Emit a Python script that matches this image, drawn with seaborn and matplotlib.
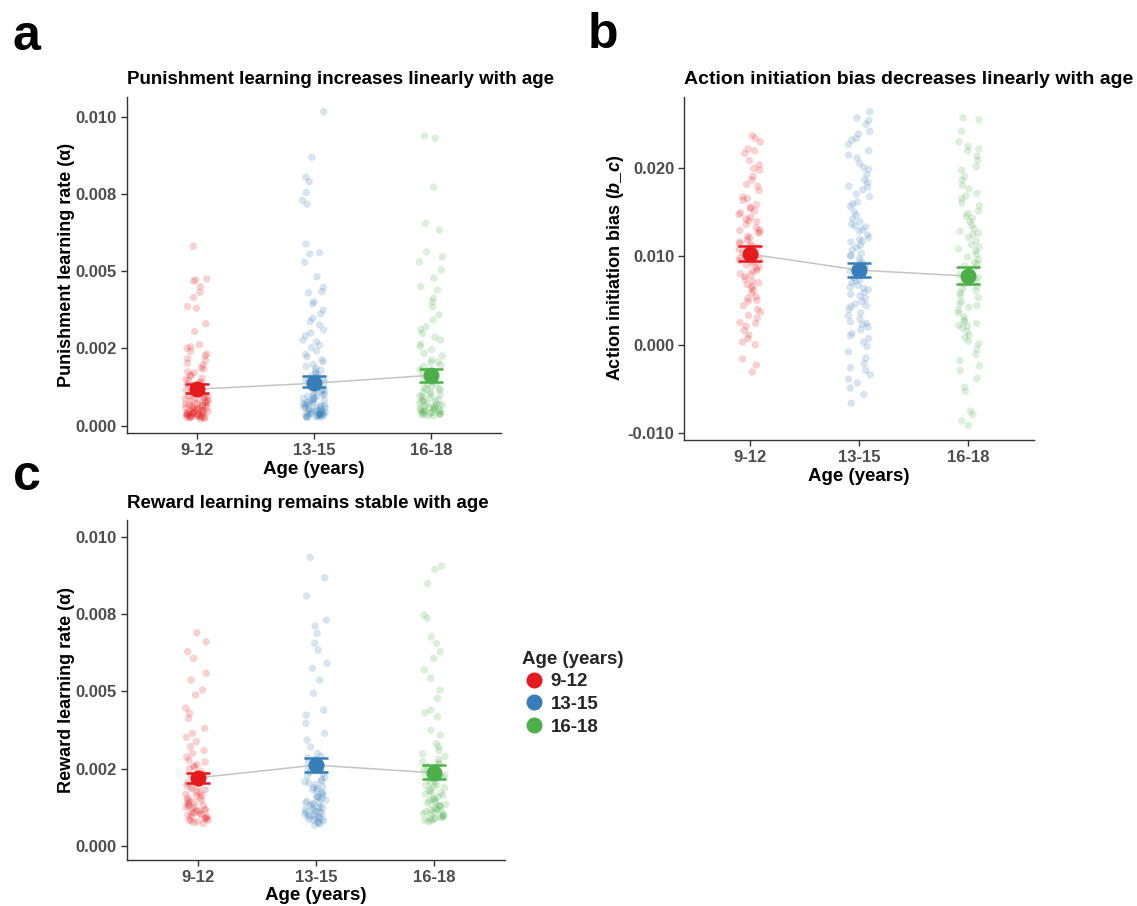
import numpy as np
import pandas as pd
import matplotlib
matplotlib.use("Agg")
import matplotlib.pyplot as plt
import seaborn as sns
from matplotlib import font_manager
from matplotlib.lines import Line2D

# ---------------- data ----------------
ages = ["9-12", "13-15", "16-18"]
colors = ["#E41A1C", "#377EB8", "#4DAF4A"]

pun_9_12 = [0.0058, 0.00475, 0.00472, 0.00468, 0.00450, 0.00432, 0.00415, 0.00385, 0.00380, 0.00330,
            0.00305, 0.00262, 0.00255, 0.00251, 0.00240, 0.00232, 0.00226, 0.00217, 0.00211, 0.00202,
            0.00196, 0.00187, 0.00183, 0.00174, 0.00171, 0.00164, 0.00161, 0.00154, 0.00150, 0.00147,
            0.00141, 0.00139, 0.00133, 0.00131, 0.00125, 0.00123, 0.00117, 0.00116, 0.00111, 0.00108,
            0.00106, 0.00101, 0.00099, 0.00095, 0.00094, 0.00090, 0.00087, 0.00086, 0.00082, 0.00080,
            0.00079, 0.00075, 0.00074, 0.00071, 0.00068, 0.00067, 0.00065, 0.00062, 0.00061, 0.00059,
            0.00058, 0.00056, 0.00054, 0.00053, 0.00051, 0.00049, 0.00048, 0.00047, 0.00045, 0.00044,
            0.00042, 0.00041, 0.00040, 0.00039, 0.00038, 0.00037, 0.00036, 0.00035, 0.00034, 0.00033,
            0.00032, 0.00031, 0.00030, 0.00029, 0.00028, 0.00027, 0.00026, 0.00025, 0.00024, 0.00022,
            0.00092, 0.00077, 0.00063, 0.00057, 0.00046, 0.00043, 0.00035, 0.00031, 0.00027, 0.00070]
pun_13_15 = [0.01016, 0.00869, 0.00804, 0.00790, 0.00755, 0.00730, 0.00717, 0.00588, 0.00560, 0.00556,
             0.00529, 0.00482, 0.00448, 0.00434, 0.00430, 0.00401, 0.00394, 0.00374, 0.00362, 0.00348,
             0.00337, 0.00326, 0.00310, 0.00300, 0.00291, 0.00277, 0.00271, 0.00261, 0.00252, 0.00241,
             0.00231, 0.00223, 0.00213, 0.00206, 0.00198, 0.00191, 0.00186, 0.00179, 0.00176, 0.00169,
             0.00166, 0.00159, 0.00156, 0.00150, 0.00147, 0.00141, 0.00139, 0.00133, 0.00131, 0.00125,
             0.00123, 0.00117, 0.00115, 0.00109, 0.00107, 0.00101, 0.00100, 0.00095, 0.00094, 0.00089,
             0.00088, 0.00083, 0.00082, 0.00077, 0.00076, 0.00072, 0.00071, 0.00068, 0.00066, 0.00064,
             0.00062, 0.00060, 0.00058, 0.00057, 0.00054, 0.00053, 0.00050, 0.00049, 0.00047, 0.00046,
             0.00044, 0.00043, 0.00041, 0.00040, 0.00039, 0.00038, 0.00037, 0.00036, 0.00035, 0.00034,
             0.00033, 0.00032, 0.00031, 0.00030, 0.00029, 0.00028, 0.00027, 0.00026,
             0.00113, 0.00097, 0.00086, 0.00074, 0.00065, 0.00056, 0.00048, 0.00042, 0.00036, 0.00031]
pun_16_18 = [0.00938, 0.00930, 0.00772, 0.00655, 0.00633, 0.00563, 0.00547, 0.00530, 0.00504, 0.00477,
             0.00450, 0.00439, 0.00412, 0.00401, 0.00385, 0.00358, 0.00342, 0.00320, 0.00311, 0.00299,
             0.00286, 0.00277, 0.00264, 0.00256, 0.00246, 0.00234, 0.00226, 0.00213, 0.00206, 0.00197,
             0.00191, 0.00182, 0.00177, 0.00169, 0.00165, 0.00157, 0.00153, 0.00146, 0.00143, 0.00136,
             0.00133, 0.00126, 0.00123, 0.00117, 0.00115, 0.00109, 0.00107, 0.00101, 0.00099, 0.00093,
             0.00091, 0.00085, 0.00084, 0.00079, 0.00078, 0.00073, 0.00072, 0.00067, 0.00066, 0.00062,
             0.00061, 0.00058, 0.00057, 0.00054, 0.00053, 0.00050, 0.00049, 0.00046, 0.00045, 0.00043,
             0.00042, 0.00040, 0.00039, 0.00038, 0.00036, 0.00035, 0.00033, 0.00032,
             0.00203, 0.00161, 0.00120, 0.00096, 0.00081, 0.00069, 0.00059, 0.00051, 0.00044, 0.00037]
pun_mean = [0.00118, 0.00137, 0.00163]
pun_lo = [0.00105, 0.00126, 0.00141]
pun_hi = [0.00135, 0.00159, 0.00184]

bias_9_12 = [0.0236, 0.0233, 0.0229, 0.0221, 0.0219, 0.0216, 0.0208, 0.0203, 0.0199, 0.0197,
             0.0190, 0.0186, 0.0181, 0.0179, 0.0174, 0.0167, 0.0165, 0.0163, 0.0158, 0.0154,
             0.0151, 0.0149, 0.0147, 0.0144, 0.0140, 0.0139, 0.0136, 0.0132, 0.0130, 0.0129,
             0.0126, 0.0122, 0.0121, 0.0118, 0.0116, 0.0114, 0.0111, 0.0110, 0.0108, 0.0104,
             0.0102, 0.0101, 0.0098, 0.0096, 0.0093, 0.0092, 0.0090, 0.0086, 0.0084, 0.0083,
             0.0080, 0.0077, 0.0074, 0.0072, 0.0070, 0.0066, 0.0064, 0.0061, 0.0058, 0.0054,
             0.0050, 0.0049, 0.0044, 0.0040, 0.0037, 0.0033, 0.0030, 0.0025, 0.0024, 0.0021,
             0.0016, 0.0011, 0.0007, 0.0003, 0.0000, -0.0016, -0.0023, -0.0031,
             0.0142, 0.0127, 0.0113, 0.0106, 0.0095, 0.0088, 0.0079, 0.0068, 0.0052, 0.0155]
bias_13_15 = [0.0263, 0.0256, 0.0253, 0.0249, 0.0241, 0.0238, 0.0233, 0.0231, 0.0226, 0.0219,
              0.0214, 0.0211, 0.0205, 0.0200, 0.0198, 0.0192, 0.0186, 0.0183, 0.0179, 0.0175,
              0.0170, 0.0167, 0.0161, 0.0159, 0.0156, 0.0150, 0.0146, 0.0142, 0.0139, 0.0136,
              0.0133, 0.0130, 0.0128, 0.0124, 0.0121, 0.0119, 0.0116, 0.0112, 0.0110, 0.0107,
              0.0103, 0.0100, 0.0097, 0.0094, 0.0091, 0.0088, 0.0085, 0.0083, 0.0079, 0.0076,
              0.0073, 0.0070, 0.0067, 0.0065, 0.0062, 0.0059, 0.0055, 0.0052, 0.0049, 0.0046,
              0.0043, 0.0040, 0.0036, 0.0033, 0.0029, 0.0026, 0.0023, 0.0020, 0.0017, 0.0013,
              0.0010, 0.0007, 0.0003, -0.0002, -0.0008, -0.0015, -0.0021, -0.0026, -0.0029, -0.0034,
              -0.0039, -0.0043, -0.0049, -0.0056, -0.0066,
              0.0134, 0.0117, 0.0101, 0.0087, 0.0072, 0.0064, 0.0057, 0.0044, 0.0024, 0.0178]
bias_16_18 = [0.0256, 0.0254, 0.0241, 0.0229, 0.0224, 0.0221, 0.0219, 0.0213, 0.0208, 0.0201,
              0.0197, 0.0190, 0.0186, 0.0180, 0.0176, 0.0171, 0.0165, 0.0160, 0.0157, 0.0151,
              0.0148, 0.0143, 0.0139, 0.0135, 0.0131, 0.0128, 0.0124, 0.0121, 0.0117, 0.0113,
              0.0110, 0.0106, 0.0102, 0.0099, 0.0096, 0.0093, 0.0089, 0.0086, 0.0083, 0.0079,
              0.0076, 0.0073, 0.0069, 0.0066, 0.0063, 0.0059, 0.0056, 0.0053, 0.0049, 0.0046,
              0.0042, 0.0039, 0.0036, 0.0032, 0.0028, 0.0024, 0.0021, 0.0019, 0.0015, 0.0011,
              0.0008, 0.0004, 0.0001, -0.0005, -0.0011, -0.0018, -0.0024, -0.0029, -0.0038, -0.0048,
              -0.0053, -0.0075, -0.0079, -0.0086, -0.0091,
              0.0145, 0.0126, 0.0108, 0.0091, 0.0077, 0.0061, 0.0044, 0.0026, 0.0022, 0.0168]
bias_mean = [0.01023, 0.00842, 0.00774]
bias_lo = [0.00947, 0.00759, 0.00687]
bias_hi = [0.01113, 0.00917, 0.00872]

rew_9_12 = [0.00689, 0.00660, 0.00628, 0.00606, 0.00558, 0.00536, 0.00504, 0.00488, 0.00445, 0.00429,
            0.00412, 0.00380, 0.00364, 0.00351, 0.00337, 0.00321, 0.00308, 0.00299, 0.00287, 0.00277,
            0.00271, 0.00263, 0.00254, 0.00249, 0.00241, 0.00232, 0.00227, 0.00219, 0.00215, 0.00207,
            0.00203, 0.00195, 0.00191, 0.00184, 0.00181, 0.00174, 0.00171, 0.00164, 0.00162, 0.00156,
            0.00154, 0.00148, 0.00146, 0.00140, 0.00138, 0.00133, 0.00131, 0.00126, 0.00124, 0.00119,
            0.00118, 0.00113, 0.00112, 0.00107, 0.00106, 0.00101, 0.00099, 0.00095, 0.00093, 0.00089,
            0.00087, 0.00084, 0.00081, 0.00078, 0.00075, 0.00072,
            0.00258, 0.00223, 0.00188, 0.00167, 0.00143, 0.00128, 0.00115, 0.00104, 0.00091, 0.00083]
rew_13_15 = [0.00933, 0.00867, 0.00808, 0.00730, 0.00711, 0.00687, 0.00655, 0.00633, 0.00590, 0.00574,
             0.00536, 0.00493, 0.00439, 0.00423, 0.00396, 0.00364, 0.00342, 0.00320, 0.00299, 0.00290,
             0.00281, 0.00274, 0.00266, 0.00260, 0.00251, 0.00246, 0.00238, 0.00233, 0.00226, 0.00221,
             0.00214, 0.00209, 0.00203, 0.00198, 0.00192, 0.00188, 0.00182, 0.00178, 0.00173, 0.00169,
             0.00164, 0.00160, 0.00156, 0.00152, 0.00148, 0.00144, 0.00141, 0.00137, 0.00134, 0.00130,
             0.00127, 0.00123, 0.00120, 0.00117, 0.00114, 0.00111, 0.00108, 0.00105, 0.00102, 0.00099,
             0.00097, 0.00094, 0.00091, 0.00089, 0.00086, 0.00083, 0.00080, 0.00077, 0.00074, 0.00071,
             0.00067,
             0.00285, 0.00243, 0.00207, 0.00185, 0.00158, 0.00139, 0.00121, 0.00109, 0.00096, 0.00085]
rew_16_18 = [0.00905, 0.00894, 0.00849, 0.00747, 0.00736, 0.00676, 0.00655, 0.00628, 0.00606, 0.00569,
             0.00542, 0.00504, 0.00477, 0.00439, 0.00430, 0.00417, 0.00374, 0.00358, 0.00331, 0.00320,
             0.00309, 0.00298, 0.00289, 0.00279, 0.00272, 0.00263, 0.00256, 0.00248, 0.00241, 0.00234,
             0.00227, 0.00221, 0.00214, 0.00209, 0.00203, 0.00197, 0.00192, 0.00187, 0.00181, 0.00177,
             0.00172, 0.00167, 0.00163, 0.00158, 0.00154, 0.00150, 0.00146, 0.00142, 0.00138, 0.00134,
             0.00131, 0.00127, 0.00124, 0.00120, 0.00117, 0.00113, 0.00110, 0.00107, 0.00104, 0.00101,
             0.00098, 0.00095, 0.00092, 0.00089, 0.00086, 0.00083, 0.00080, 0.00078,
             0.00268, 0.00231, 0.00195, 0.00171, 0.00148, 0.00129, 0.00116, 0.00103, 0.00093, 0.00087]
rew_mean = [0.00220, 0.00261, 0.00236]
rew_lo = [0.00202, 0.00240, 0.00216]
rew_hi = [0.00237, 0.00283, 0.00261]

rate_ticks = [0.0, 0.0025, 0.005, 0.0075, 0.01]
rate_ticklabels = ["0.000", "0.002", "0.005", "0.008", "0.010"]
bias_ticks = [-0.01, 0.0, 0.01, 0.02]
bias_ticklabels = ["-0.010", "0.000", "0.010", "0.020"]

# ---------------- style ----------------
sns.set_theme(style="white")
names = {f.name for f in font_manager.fontManager.ttflist}
NARROW = "Liberation Sans Narrow" if "Liberation Sans Narrow" in names else "Liberation Sans"
TICK_SIZE = 13.5 if NARROW == "Liberation Sans Narrow" else 12
plt.rcParams["font.family"] = ["Liberation Sans", "DejaVu Sans"]
plt.rcParams["mathtext.fontset"] = "custom"
plt.rcParams["mathtext.it"] = "Liberation Sans:italic:bold"
plt.rcParams["mathtext.rm"] = "Liberation Sans:bold"
plt.rcParams["mathtext.bf"] = "Liberation Sans:bold"

W, H = 1137, 906
fig = plt.figure(figsize=(W / 100, H / 100), dpi=100)


def box(l, t, r, b):
    return [l / W, 1 - b / H, (r - l) / W, (b - t) / H]


def panel(ax, groups, means, lo, hi, title, ylabel, yticks, yticklabels, ylim,
          ylabelpad, title_size=13.5):
    df = pd.DataFrame({
        "age": np.repeat(ages, [len(g) for g in groups]),
        "value": np.concatenate(groups),
    })
    sns.stripplot(data=df, x="age", y="value", hue="age", order=ages, hue_order=ages,
                  palette=colors, jitter=0.1, size=5.4, alpha=0.2, linewidth=0,
                  legend=False, ax=ax, zorder=1)
    pos = np.arange(len(ages))
    ax.plot(pos, means, color="#C4C4C4", lw=1.1, zorder=2)
    for i in range(len(ages)):
        ax.errorbar(pos[i], means[i], yerr=[[means[i] - lo[i]], [hi[i] - means[i]]],
                    fmt="o", color=colors[i], ms=10.5, capsize=8.3, elinewidth=1.8,
                    capthick=1.8, zorder=3)
    ax.set_xlim(-0.6, 2.6)
    ax.set_ylim(*ylim)
    ax.set_yticks(yticks)
    ax.set_yticklabels(yticklabels)
    ax.set_xticks(pos)
    ax.set_xticklabels(ages)
    for s in ["top", "right"]:
        ax.spines[s].set_visible(False)
    for s in ["left", "bottom"]:
        ax.spines[s].set_color("#333333")
        ax.spines[s].set_linewidth(1.0)
    ax.tick_params(axis="both", which="major", direction="out", length=4, width=1,
                   color="#333333", labelcolor="#4D4D4D", labelsize=TICK_SIZE, pad=3,
                   left=True, bottom=True)
    for lab in ax.get_xticklabels() + ax.get_yticklabels():
        lab.set_fontfamily(NARROW)
        lab.set_fontweight("bold")
    ax.set_xlabel("Age (years)", fontfamily=NARROW, fontweight="bold", fontsize=13.5,
                  color="black", labelpad=2)
    ax.set_ylabel(ylabel, fontweight="bold", fontsize=13, color="black", labelpad=ylabelpad)
    ax.set_title(title, loc="left", fontweight="bold", fontsize=title_size, color="black", pad=9)
    ax.grid(False)


ax_a = fig.add_axes(box(126.7, 96.7, 501, 433))
panel(ax_a, [pun_9_12, pun_13_15, pun_16_18], pun_mean, pun_lo, pun_hi,
      "Punishment learning increases linearly with age",
      "Punishment learning rate (α)", rate_ticks, rate_ticklabels,
      (-0.00024, 0.01065), 0.5)

ax_b = fig.add_axes(box(684.3, 96.7, 1034, 440))
panel(ax_b, [bias_9_12, bias_13_15, bias_16_18], bias_mean, bias_lo, bias_hi,
      "Action initiation bias decreases linearly with age",
      r"Action initiation bias ($b\_c$)", bias_ticks, bias_ticklabels,
      (-0.01076, 0.0280), 1.5, title_size=14)

ax_c = fig.add_axes(box(126.7, 520, 505, 860))
panel(ax_c, [rew_9_12, rew_13_15, rew_16_18], rew_mean, rew_lo, rew_hi,
      "Reward learning remains stable with age",
      "Reward learning rate (α)", rate_ticks, rate_ticklabels,
      (-0.00046, 0.01054), 0.5)

for letter, x, y in [("a", 13, 50), ("b", 588, 48), ("c", 13, 490)]:
    fig.text(x / W, 1 - y / H, letter, fontsize=36, fontweight="bold",
             color="black", va="baseline", ha="left")

handles = [Line2D([], [], marker="o", linestyle="", color=c, markersize=10.5) for c in colors]
leg = fig.legend(handles, ages, title="Age (years)", loc="upper left",
                 bbox_to_anchor=(515 / W, 1 - 643 / H), frameon=False,
                 prop={"family": NARROW, "weight": "bold", "size": 13.5},
                 title_fontproperties={"family": NARROW, "weight": "bold", "size": 13.5},
                 handletextpad=0.3, labelspacing=0.3, handlelength=1.2,
                 alignment="left", borderaxespad=0)

fig.savefig("out.png", dpi=100, facecolor="white")
